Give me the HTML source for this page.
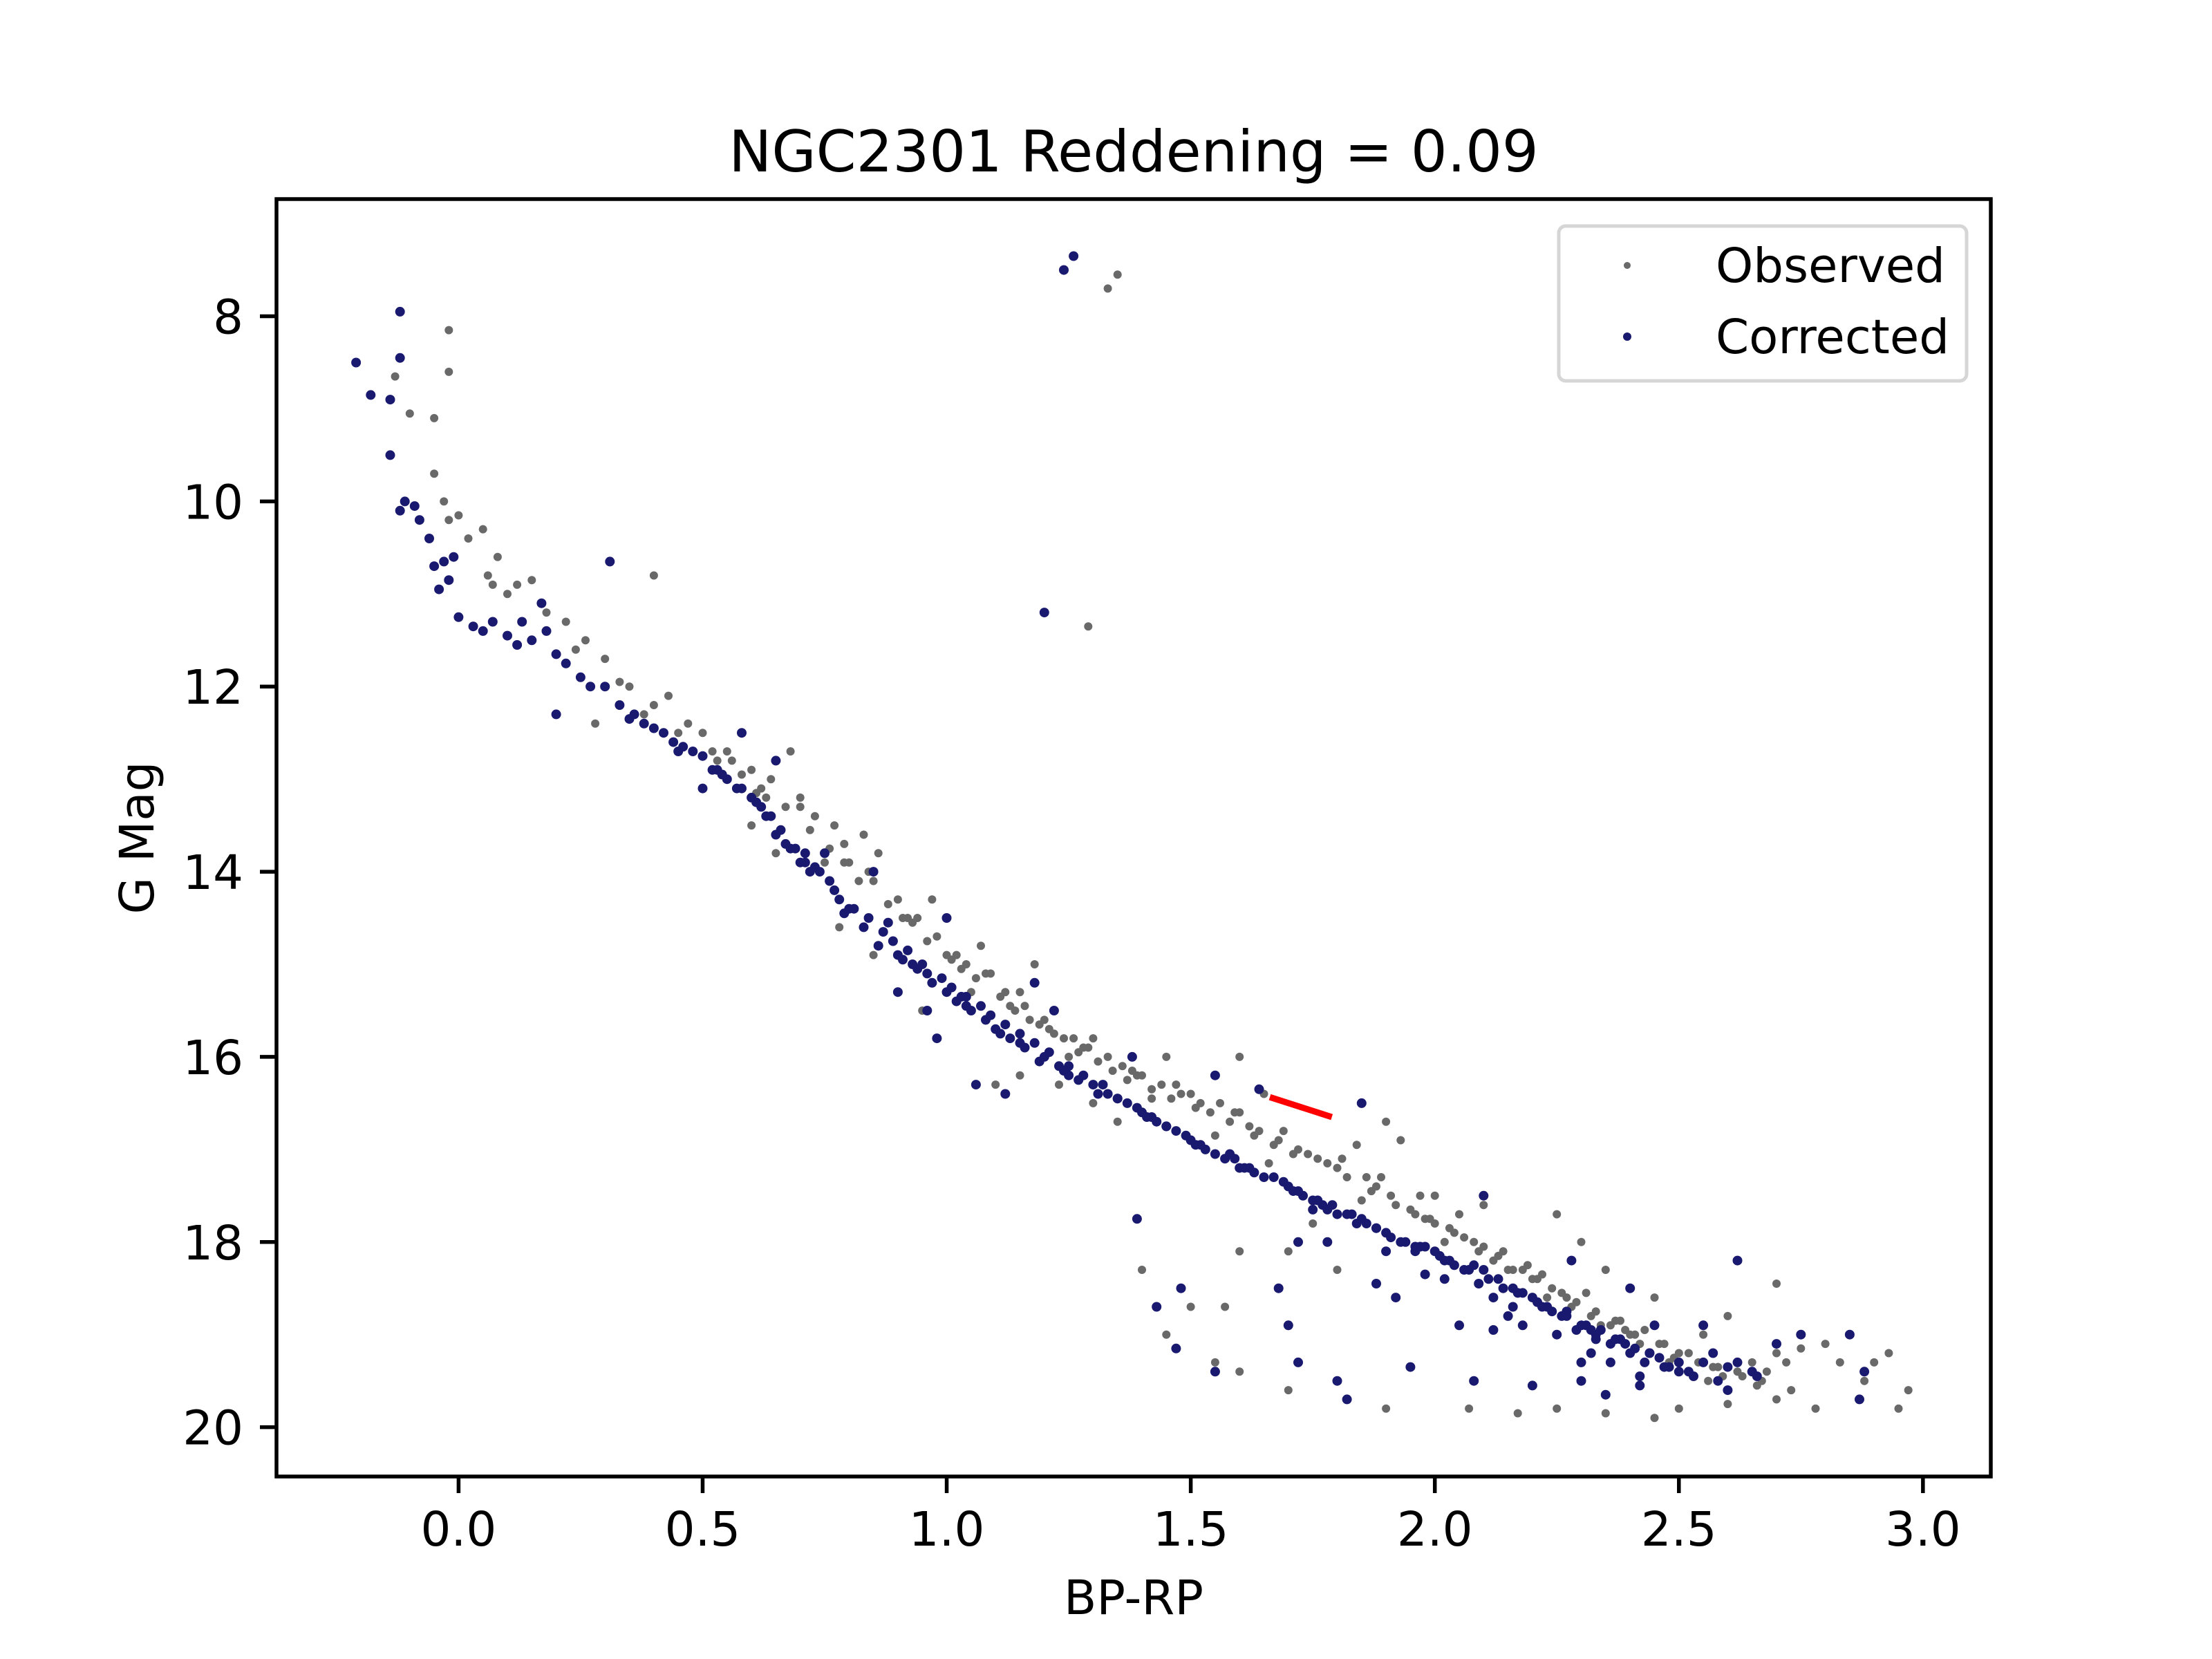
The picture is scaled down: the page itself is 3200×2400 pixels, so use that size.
<!DOCTYPE html>
<html><head><meta charset="utf-8"><style>
html,body{margin:0;padding:0;background:#fff;}
svg{display:block;font-family:"DejaVu Sans","Liberation Sans",sans-serif;}
</style></head><body>
<svg id="chart" width="3200" height="2400" viewBox="0 0 3200 2400">
<rect x="0" y="0" width="3200" height="2400" fill="#fff"/>
<text x="1640" y="248" font-size="83" text-anchor="middle">NGC2301 Reddening = 0.09</text>
<g id="plot"></g>
<g id="axes"></g>
<text x="1640" y="2335" font-size="69" text-anchor="middle">BP-RP</text>
<text x="0" y="0" font-size="69" text-anchor="middle" transform="translate(222,1212) rotate(-90)">G Mag</text>
<g>
<rect x="2255" y="327" width="590" height="224" rx="10" fill="#fff" fill-opacity="0.8" stroke="#d6d6d6" stroke-width="5"/>
<circle cx="2354" cy="384" r="5" fill="#696969"/>
<text x="2482" y="408" font-size="69">Observed</text>
<circle cx="2354" cy="487" r="6" fill="#191970"/>
<text x="2482" y="511" font-size="69">Corrected</text>
</g>
</svg>
<script>
const xTicks=[0.0,0.5,1.0,1.5,2.0,2.5,3.0];
const xTickLabels=["0.0","0.5","1.0","1.5","2.0","2.5","3.0"];
const yTicks=[8,10,12,14,16,18,20];
const yTickLabels=["8","10","12","14","16","18","20"];
const obsX=[1.33,1.35,1.29,-0.02,-0.13,-0.02,-0.1,-0.05,-0.05,-0.03,-0.02,0.0,0.02,0.05,0.06,0.07,0.1,0.15,0.22,0.26,0.3,0.28,0.4,0.33,0.4,0.43,0.47,0.5,0.55,0.6,0.64,0.68,0.7,0.73,0.77,0.8,0.83,0.86,0.9,0.94,0.98,1.0,1.04,1.07,1.09,1.12,1.16,1.2,1.24,1.28,1.3,1.33,1.36,1.4,1.44,1.48,1.52,1.56,1.6,1.64,1.68,1.72,1.76,1.8,1.84,1.9,1.88,1.92,1.96,2.0,2.04,2.08,2.12,2.16,2.2,2.24,2.28,2.32,2.36,2.4,2.44,2.48,2.52,2.56,2.6,2.65,2.7,2.75,2.8,2.85,2.93,2.97,2.95,2.78,2.7,2.6,2.5,2.45,2.35,2.25,2.17,2.07,1.9,1.8,1.7,1.6,1.55,1.45,1.5,1.57,1.4,1.6,1.7,1.8,1.75,2.25,2.3,2.35,2.45,2.6,2.7,2.55,1.23,1.3,1.35,1.15,1.1,0.95,0.85,0.78,0.6,0.65,1.45,1.65,1.93,2.0,2.1,1.6,1.18,0.97,0.85,0.56,0.62,0.75,0.92,1.02,1.14,1.26,1.38,1.5,1.62,1.74,1.86,1.98,2.14,2.22,2.38,2.42,2.52,2.62,
0.45,0.52,0.58,0.63,0.67,0.72,0.76,0.79,0.82,0.88,0.91,0.96,1.01,1.03,1.06,1.11,1.13,1.17,1.19,1.22,1.27,1.31,1.34,1.37,1.42,1.46,1.51,1.54,1.58,1.63,1.67,1.71,1.78,1.82,1.87,1.91,1.95,1.99,2.03,2.06,2.1,2.13,2.18,2.21,2.26,2.29,2.33,2.37,2.41,2.46,2.5,2.54,2.58,2.63,2.68,2.72,0.08,0.12,0.18,0.24,0.35,0.38,1.05,1.25,1.42,1.55,1.66,1.85,2.02,2.15,2.27,2.39,2.47,2.57,2.66,2.83,
0.53,0.61,0.7,0.79,0.84,0.93,1.08,1.15,1.21,1.29,1.39,1.47,1.59,1.69,1.81,1.89,1.97,2.05,2.09,2.19,2.23,2.31,2.34,2.43,2.49,2.59,2.67,2.73,2.88,2.9];
const obsY=[7.7,7.55,11.35,8.15,8.65,8.6,9.05,9.1,9.7,10.0,10.2,10.15,10.4,10.3,10.8,10.9,11.0,10.85,11.3,11.5,11.7,12.4,10.8,11.95,12.2,12.1,12.4,12.5,12.7,12.9,13.0,12.7,13.2,13.4,13.5,13.9,13.6,13.8,14.3,14.5,14.7,14.9,15.0,14.8,15.1,15.3,15.45,15.6,15.8,15.9,15.8,16.0,16.1,16.2,16.3,16.4,16.5,16.5,16.6,16.8,16.9,17.0,17.1,17.2,16.95,16.7,17.4,17.6,17.7,17.8,17.9,18.0,18.2,18.3,18.4,18.5,18.7,18.8,18.9,19.0,19.2,19.3,19.4,19.5,19.6,19.3,19.2,19.15,19.1,19.0,19.2,19.6,19.8,19.8,19.7,19.75,19.8,19.9,19.85,19.8,19.85,19.8,19.8,19.5,19.6,19.4,19.3,19.0,18.7,18.7,18.3,18.1,18.1,18.3,17.8,17.7,18.0,18.3,18.6,18.8,18.45,19.0,16.3,16.5,16.7,16.2,16.3,15.5,14.9,14.6,13.5,13.8,16.0,16.4,16.9,17.5,17.6,16.0,15.0,14.3,14.1,12.8,13.1,13.9,14.5,14.9,15.5,15.8,16.15,16.4,16.75,17.05,17.3,17.75,18.1,18.35,18.85,19.1,19.2,19.4,
12.5,12.7,12.95,13.2,13.3,13.55,13.75,13.9,14.1,14.35,14.5,14.75,14.95,15.05,15.15,15.35,15.45,15.6,15.65,15.75,15.95,16.05,16.15,16.25,16.35,16.45,16.55,16.6,16.7,16.85,16.95,17.05,17.15,17.3,17.45,17.5,17.65,17.75,17.85,17.95,18.05,18.15,18.3,18.4,18.55,18.65,18.75,18.85,19.0,19.1,19.2,19.3,19.35,19.45,19.4,19.3,10.6,10.9,11.2,11.6,12.0,12.3,15.3,16.0,16.45,16.85,17.15,17.55,18.0,18.3,18.6,18.95,19.1,19.35,19.55,19.3,
12.8,13.15,13.3,13.7,14.0,14.55,15.1,15.3,15.7,15.9,16.2,16.3,16.6,16.8,17.1,17.3,17.5,17.7,18.1,18.25,18.6,18.55,18.9,18.95,19.25,19.45,19.5,19.6,19.5,19.3];
const corX=[1.24,1.26,1.2,-0.12,-0.21,-0.12,-0.18,-0.14,-0.14,-0.12,-0.11,-0.09,-0.08,-0.06,-0.05,-0.03,-0.04,-0.02,-0.01,0.0,0.03,0.05,0.1,0.12,0.13,0.17,0.18,0.2,0.22,0.2,0.27,0.3,0.33,0.36,0.38,0.4,0.44,0.48,0.5,0.52,0.55,0.5,0.58,0.6,0.62,0.65,0.67,0.7,0.72,0.76,0.78,0.8,0.83,0.86,0.9,0.93,0.96,1.0,0.96,1.02,1.05,1.08,1.1,1.13,1.16,1.2,1.23,1.27,1.3,1.33,1.37,1.4,1.43,1.47,1.5,1.53,1.57,1.6,1.63,1.67,1.7,1.73,1.77,1.8,1.83,1.86,1.9,1.93,1.96,2.0,2.03,2.06,2.1,2.13,2.16,2.2,2.23,2.26,2.3,2.33,2.36,2.4,2.43,2.46,2.5,2.55,2.6,2.65,1.39,1.43,1.48,1.47,1.55,1.68,1.7,1.72,1.8,1.82,1.95,2.08,2.2,2.35,2.5,2.62,2.75,2.88,2.87,2.1,2.15,2.28,2.05,1.85,1.64,1.92,1.0,0.85,0.75,0.45,0.65,0.9,0.98,1.06,1.12,1.18,1.22,1.38,1.55,2.4,2.45,2.55,2.3,2.6,0.31,0.58,0.68,0.73,0.88,0.94,1.04,1.15,1.25,1.35,1.45,1.58,1.75,1.88,1.98,2.08,2.18,2.27,2.32,2.38,2.44,
0.42,0.46,0.53,0.57,0.61,0.64,0.69,0.71,0.74,0.77,0.81,0.84,0.87,0.89,0.92,0.95,0.99,1.01,1.04,1.07,1.09,1.12,1.15,1.18,1.21,1.25,1.28,1.32,1.35,1.39,1.42,1.45,1.49,1.52,1.55,1.59,1.62,1.65,1.69,1.72,1.76,1.79,1.82,1.85,1.88,1.91,1.94,1.97,2.01,2.04,2.07,2.11,2.14,2.17,2.21,2.24,2.27,2.31,2.34,2.37,2.41,2.44,2.48,2.52,2.57,2.62,2.7,2.85,0.07,0.15,0.25,0.35,1.75,1.9,2.02,2.12,2.25,2.32,2.42,1.78,1.98,2.18,2.36,2.53,
0.54,0.63,0.66,0.71,0.79,0.91,0.97,1.03,1.11,1.19,1.24,1.31,1.41,1.51,1.61,1.71,1.78,1.84,1.96,2.02,2.09,2.16,2.22,2.29,2.33,2.39,2.47,2.58,1.72,1.88,2.12,2.3,2.42,2.66];
const corY=[7.5,7.35,11.2,7.95,8.5,8.45,8.85,8.9,9.5,10.1,10.0,10.05,10.2,10.4,10.7,10.65,10.95,10.85,10.6,11.25,11.35,11.4,11.45,11.55,11.3,11.1,11.4,11.65,11.75,12.3,12.0,12.0,12.2,12.3,12.4,12.45,12.6,12.7,12.75,12.9,13.0,13.1,12.5,13.2,13.3,13.6,13.7,13.9,14.0,14.1,14.3,14.4,14.6,14.8,14.9,15.0,15.1,15.3,15.5,15.4,15.5,15.6,15.7,15.8,15.9,16.0,16.1,16.25,16.3,16.4,16.5,16.6,16.7,16.8,16.9,17.0,17.1,17.2,17.25,17.3,17.4,17.5,17.6,17.7,17.7,17.8,17.9,18.0,18.1,18.1,18.2,18.3,18.3,18.4,18.5,18.6,18.7,18.8,18.9,19.0,19.1,19.2,19.3,19.25,19.4,19.3,19.35,19.4,17.75,18.7,18.5,19.15,19.4,18.5,18.9,19.3,19.5,19.7,19.35,19.5,19.55,19.65,19.3,18.2,19.0,19.4,19.7,17.5,18.8,18.2,18.9,16.5,16.35,18.6,14.5,14.0,13.8,12.7,12.8,15.3,15.8,16.3,16.4,15.2,15.5,16.0,16.2,18.5,18.9,18.9,19.5,19.6,10.65,13.1,13.75,13.95,14.55,15.05,15.45,15.85,16.2,16.45,16.75,17.05,17.55,17.85,18.05,18.25,18.55,18.75,18.95,19.05,19.2,
12.5,12.65,12.9,13.1,13.25,13.4,13.75,13.8,14.0,14.2,14.4,14.5,14.65,14.75,14.85,15.0,15.15,15.25,15.35,15.45,15.55,15.65,15.75,15.85,15.95,16.1,16.2,16.3,16.45,16.55,16.65,16.75,16.85,16.95,17.05,17.1,17.2,17.3,17.35,17.45,17.55,17.6,17.7,17.75,17.85,17.95,18.0,18.05,18.15,18.25,18.3,18.4,18.5,18.55,18.65,18.75,18.8,18.9,18.95,19.05,19.15,19.2,19.35,19.4,19.2,19.3,19.1,19.0,11.3,11.5,11.9,12.35,17.65,18.1,18.4,18.6,19.0,19.2,19.45,18.0,18.35,18.9,19.3,19.45,
12.95,13.4,13.55,13.9,14.45,14.95,15.2,15.35,15.75,16.05,16.15,16.4,16.65,16.95,17.2,17.45,17.65,17.8,18.05,18.2,18.45,18.7,18.7,18.95,19.05,19.1,19.35,19.5,18.0,18.45,18.95,19.3,19.55,19.45];
const redX=[1.662,1.789];
const redY=[16.435,16.65];

const L=400,R=2880,T=288,B=2136;
const XMIN=-0.373,XMAX=3.139,YMIN=6.734,YMAX=20.533;
function sx(v){return L+(v-XMIN)/(XMAX-XMIN)*(R-L);}
function sy(v){return T+(v-YMIN)/(YMAX-YMIN)*(B-T);}
const NS="http://www.w3.org/2000/svg";
const plot=document.getElementById('plot');
const axes=document.getElementById('axes');
function drawSeries(xs,ys,color,rad,name){
  for(let i=0;i<xs.length;i++){
    const c=document.createElementNS(NS,'circle');
    c.setAttribute('cx',sx(xs[i]).toFixed(1));
    c.setAttribute('cy',sy(ys[i]).toFixed(1));
    c.setAttribute('r',rad);
    c.setAttribute('fill',color);
    
    
    plot.appendChild(c);
  }
}
drawSeries(obsX,obsY,'#696969','6','observed-point');
drawSeries(corX,corY,'#191970','7','corrected-point');
const ln=document.createElementNS(NS,'line');
ln.setAttribute('x1',sx(redX[0]));ln.setAttribute('y1',sy(redY[0]));
ln.setAttribute('x2',sx(redX[1]));ln.setAttribute('y2',sy(redY[1]));
ln.setAttribute('stroke','#ff0000');ln.setAttribute('stroke-width','9');


plot.appendChild(ln);
const fr=document.createElementNS(NS,'rect');
fr.setAttribute('x',L);fr.setAttribute('y',T);fr.setAttribute('width',R-L);fr.setAttribute('height',B-T);
fr.setAttribute('fill','none');fr.setAttribute('stroke','#000');fr.setAttribute('stroke-width','5.5');


axes.appendChild(fr);
xTicks.forEach((v,i)=>{
  const x=sx(v);
  const t=document.createElementNS(NS,'line');
  t.setAttribute('x1',x);t.setAttribute('x2',x);t.setAttribute('y1',B);t.setAttribute('y2',B+24);
  t.setAttribute('stroke','#000');t.setAttribute('stroke-width','5.5');
  
  
  axes.appendChild(t);
  const tx=document.createElementNS(NS,'text');
  tx.setAttribute('x',x);tx.setAttribute('y',B+100);tx.setAttribute('font-size','69');tx.setAttribute('text-anchor','middle');
  tx.textContent=xTickLabels[i];
  
  
  axes.appendChild(tx);
});
yTicks.forEach((v,i)=>{
  const y=sy(v);
  const t=document.createElementNS(NS,'line');
  t.setAttribute('x1',L-24);t.setAttribute('x2',L);t.setAttribute('y1',y);t.setAttribute('y2',y);
  t.setAttribute('stroke','#000');t.setAttribute('stroke-width','5.5');
  
  
  axes.appendChild(t);
  const tx=document.createElementNS(NS,'text');
  tx.setAttribute('x',L-48);tx.setAttribute('y',y+25);tx.setAttribute('font-size','69');tx.setAttribute('text-anchor','end');
  tx.textContent=yTickLabels[i];
  
  
  axes.appendChild(tx);
});
</script>
</body></html>
